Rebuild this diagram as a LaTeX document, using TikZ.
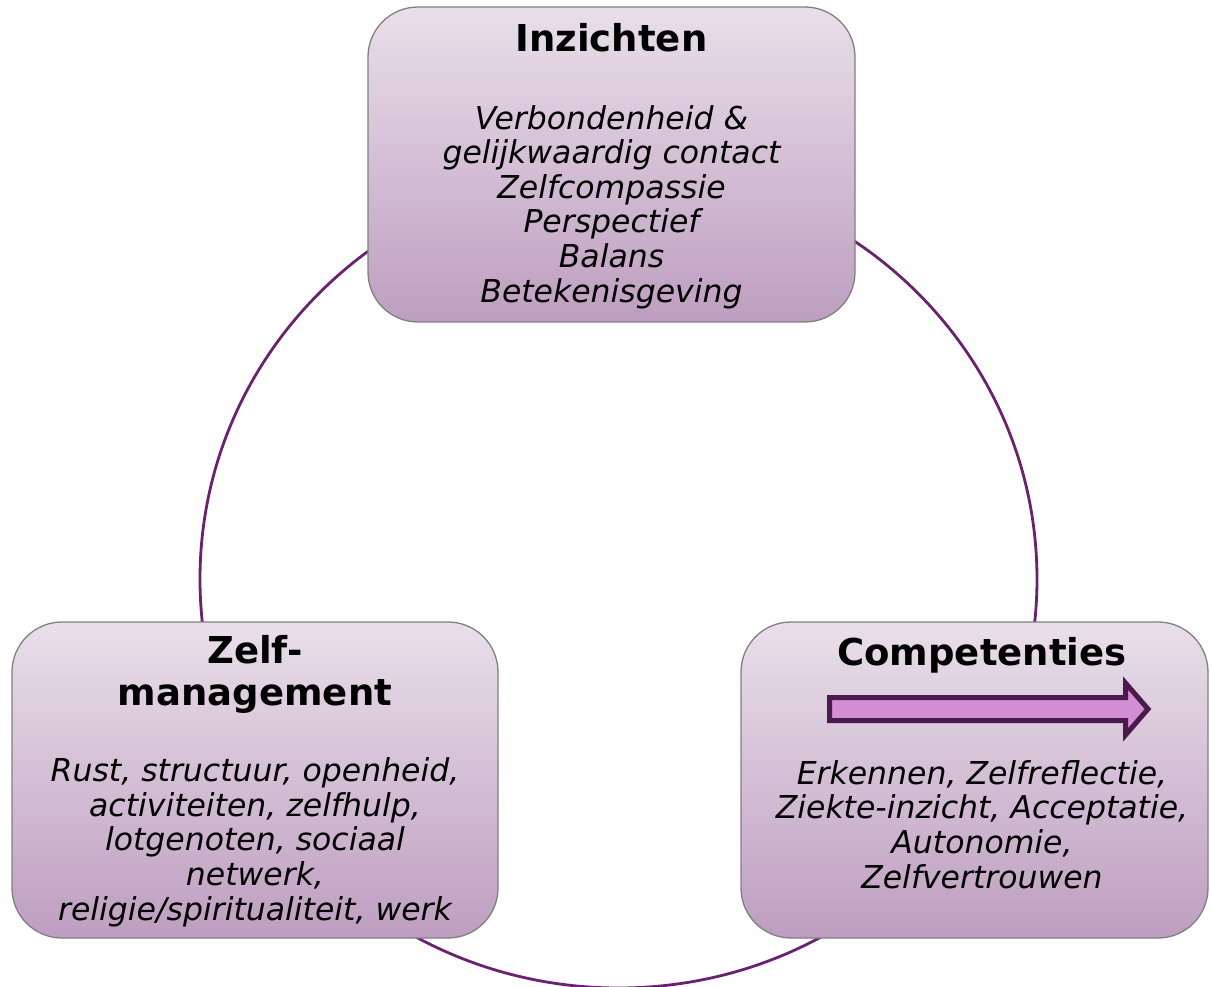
\documentclass[tikz,border=0pt]{standalone}
\usepackage{fontspec}
\setmainfont{DejaVu Sans}
\definecolor{boxtop}{RGB}{233,223,234}
\definecolor{boxbot}{RGB}{190,158,192}
\definecolor{boxline}{RGB}{128,128,128}
\definecolor{ringcol}{RGB}{106,34,112}
\definecolor{arrfill}{RGB}{212,142,212}
\definecolor{arrline}{RGB}{74,26,76}
\begin{document}
\begin{tikzpicture}[x=1pt,y=-1pt,
  cyclebox/.style={draw=boxline, line width=1.3pt, rounded corners=50pt,
    top color=boxtop, bottom color=boxbot, inner sep=0pt},
  titletext/.style={font=\fontsize{37}{42}\selectfont\bfseries, align=center, inner sep=0pt, anchor=base},
  bodytext/.style={font=\fontsize{31.5}{34.6}\selectfont\itshape, align=center, inner sep=0pt, anchor=base}]
\useasboundingbox (0,0) rectangle (1211,987);
\begin{scope}
\clip (0,0) rectangle (1211,987);
\draw[ringcol, line width=2.8pt] (618.5,579) ellipse [x radius=418.5, y radius=409];
\end{scope}
% boxes
\node[cyclebox, minimum width=487pt, minimum height=315pt] (inz) at (611.5,164.5) {};
\node[cyclebox, minimum width=486pt, minimum height=316pt] (zelf) at (255,780) {};
\node[cyclebox, minimum width=467pt, minimum height=316pt] (comp) at (974.5,780) {};
% Inzichten
\node[titletext] (inzT) at (611.5,52) {Inzichten};
\node[bodytext] (inzB) at (611.5,302) {Verbondenheid \&\\gelijkwaardig contact\\Zelfcompassie\\Perspectief\\Balans\\Betekenisgeving};
% Zelfmanagement
\node[titletext] (zelfT) at (255,705) {Zelf-\\management};
\node[bodytext] (zelfB) at (255,920) {Rust, structuur, openheid,\\activiteiten, zelfhulp,\\lotgenoten, sociaal\\netwerk,\\religie/spiritualiteit, werk};
% Competenties
\node[titletext] (compT) at (982,665) {Competenties};
\draw[arrline, line width=5pt, fill=arrfill, line join=miter]
  (829.5,697.5) -- (1125.5,697.5) -- (1125.5,683) -- (1148,709) -- (1125.5,735) -- (1125.5,720.5) -- (829.5,720.5) -- cycle;
\node[bodytext] (compB) at (982,888) {Erkennen, Zelfreflectie,\\Ziekte-inzicht, Acceptatie,\\Autonomie,\\Zelfvertrouwen};
\end{tikzpicture}
\end{document}
